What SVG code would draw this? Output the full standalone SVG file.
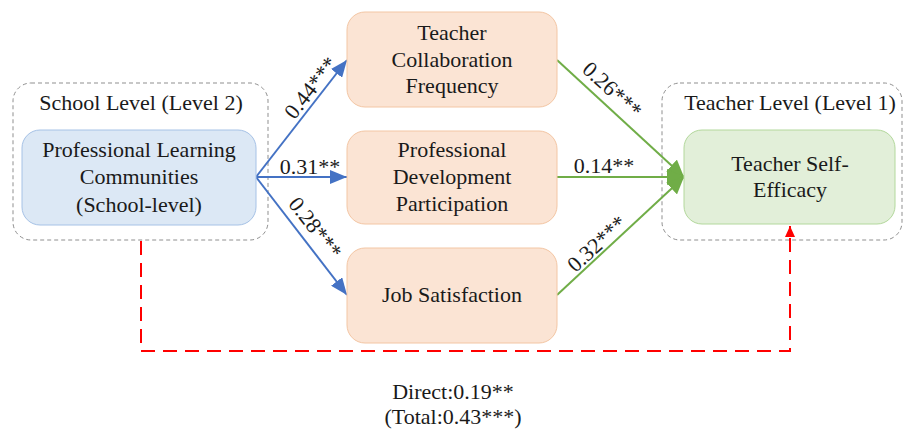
<svg xmlns="http://www.w3.org/2000/svg" width="903" height="431" viewBox="0 0 903 431">
<style>
text{font-family:"Liberation Serif","Times New Roman",serif;font-size:22px;fill:#1a1a1a;text-anchor:middle}
.grp{fill:none;stroke:#8f8f8f;stroke-width:1;stroke-dasharray:4 3}
.plc{fill:#dce8f5;stroke:#a6c2e6;stroke-width:1}
.med{fill:#fbe4d4;stroke:#f3c6a4;stroke-width:1}
.out{fill:#e2efd9;stroke:#b3d89c;stroke-width:1}
.blue{fill:none;stroke:#4472c4;stroke-width:2}
.green{fill:none;stroke:#70ad47;stroke-width:2}
.red{fill:none;stroke:#ff0000;stroke-width:2;stroke-dasharray:14 8}
</style>
<defs>
<marker id="ab" markerUnits="userSpaceOnUse" markerWidth="18" markerHeight="14" refX="17" refY="7" orient="auto"><path d="M0,0 L17,7 L0,14 z" fill="#4472c4"/></marker>
<marker id="ag" markerUnits="userSpaceOnUse" markerWidth="18" markerHeight="16" refX="17" refY="8" orient="auto"><path d="M0,0 L17,8 L0,16 z" fill="#70ad47"/></marker>
<marker id="ar" markerUnits="userSpaceOnUse" markerWidth="12" markerHeight="10" refX="11" refY="5" orient="auto"><path d="M0,0 L11,5 L0,10 z" fill="#ff0000"/></marker>
</defs>
<g id="school-level">
<rect class="grp" x="13" y="83" width="255" height="157" rx="18"/>
<text x="141" y="110">School Level (Level 2)</text>
</g>
<g id="teacher-level">
<rect class="grp" x="662" y="83" width="240" height="157" rx="18"/>
<text x="790" y="110">Teacher Level (Level 1)</text>
</g>
<g id="connectors">
<path class="blue" d="M256,177 L347,60" marker-end="url(#ab)"/>
<path class="blue" d="M256,177 L347,177" marker-end="url(#ab)"/>
<path class="blue" d="M256,177 L347,295" marker-end="url(#ab)"/>
<path class="green" d="M557,60 L684,177" marker-end="url(#ag)"/>
<path class="green" d="M557,177 L684,177" marker-end="url(#ag)"/>
<path class="green" d="M557,295 L684,177" marker-end="url(#ag)"/>
<path class="red" d="M141,241 L141,351 L790,351 L790,226" marker-end="url(#ar)"/>
<text transform="translate(311,88) rotate(-52)" y="7">0.44***</text>
<text x="310" y="174">0.31**</text>
<text transform="translate(315,228) rotate(52)" y="7">0.28***</text>
<text transform="translate(612,90) rotate(42.6)" y="7">0.26***</text>
<text x="604" y="173">0.14**</text>
<text transform="translate(597,244) rotate(-42.6)" y="7">0.32***</text>
<text x="453" y="399">Direct:0.19**</text>
<text x="453" y="424">(Total:0.43***)</text>
</g>
<g id="plc">
<rect class="plc" x="22" y="130" width="234" height="95" rx="18"/>
<text x="139" y="157">Professional Learning</text>
<text x="139" y="184">Communities</text>
<text x="139" y="212">(School-level)</text>
</g>
<g id="collab">
<rect class="med" x="347" y="12" width="210" height="95" rx="18"/>
<text x="452" y="40">Teacher</text>
<text x="452" y="67">Collaboration</text>
<text x="452" y="93">Frequency</text>
</g>
<g id="pd">
<rect class="med" x="347" y="131" width="210" height="93" rx="18"/>
<text x="452" y="157">Professional</text>
<text x="452" y="184">Development</text>
<text x="452" y="211">Participation</text>
</g>
<g id="job">
<rect class="med" x="347" y="248" width="210" height="95" rx="18"/>
<text x="452" y="302">Job Satisfaction</text>
</g>
<g id="tse">
<rect class="out" x="684" y="130" width="211" height="94" rx="18"/>
<text x="790" y="171">Teacher Self-</text>
<text x="790" y="197">Efficacy</text>
</g>
</svg>
